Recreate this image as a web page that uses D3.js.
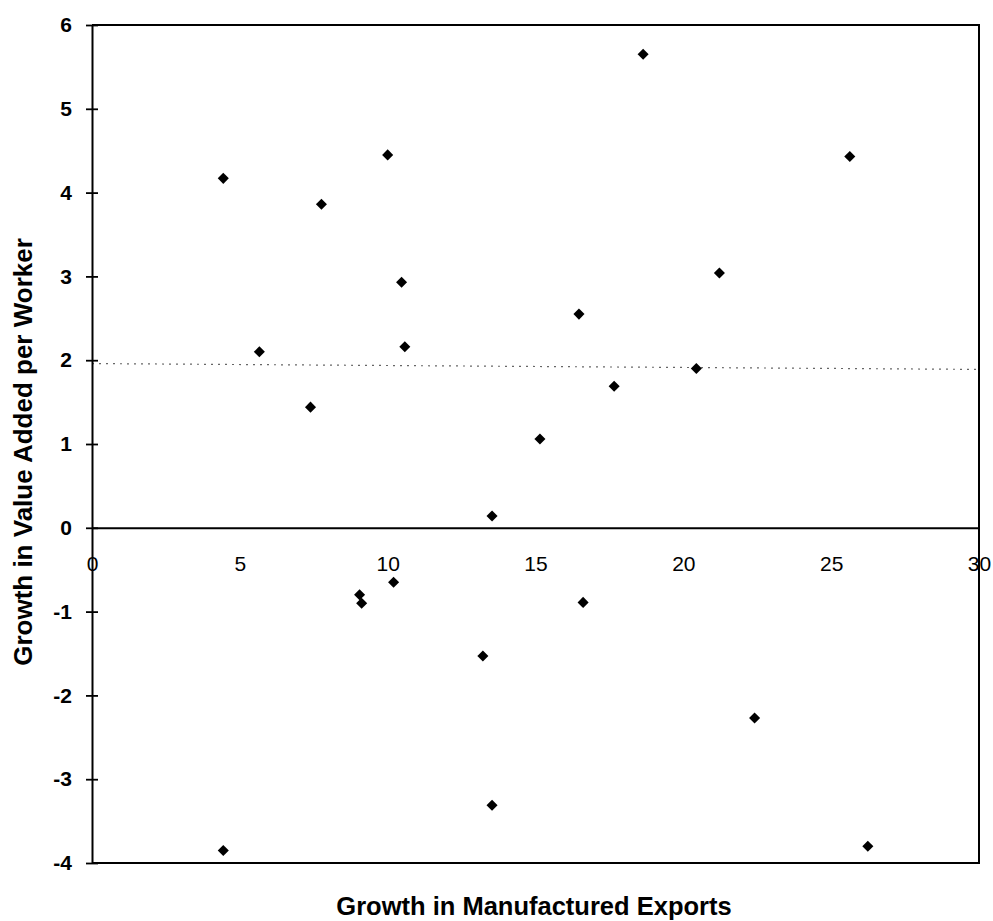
<!DOCTYPE html>
<html>
<head>
<meta charset="utf-8">
<script src="https://cdn.jsdelivr.net/npm/d3@7"></script>
<style>
  html, body { margin: 0; padding: 0; background: #fff; }
  svg { display: block; font-family: "Liberation Sans", Arial, sans-serif; }
</style>
</head>
<body>
<svg id="chart" width="993" height="921"></svg>
<script>
// Data
const exportGrowth = [4.44, 7.76, 10.0, 18.64, 10.47, 16.47, 25.63, 21.22, 5.66, 7.39, 10.58, 17.66,
                      15.15, 13.53, 10.2, 9.05, 9.12, 16.61, 13.22, 20.44, 4.44, 13.53, 22.41, 26.24];
const valueAddedGrowth = [4.17, 3.86, 4.45, 5.65, 2.93, 2.55, 4.43, 3.04, 2.10, 1.44, 2.16, 1.69,
                          1.06, 0.14, -0.65, -0.80, -0.90, -0.89, -1.53, 1.90, -3.85, -3.31, -2.27, -3.80];
const xTicks = [0, 5, 10, 15, 20, 25, 30];
const yTicks = [-4, -3, -2, -1, 0, 1, 2, 3, 4, 5, 6];
const refLineX = [0, 30];
const refLineY = [1.96, 1.89];
const xTitle = "Growth in Manufactured Exports";
const yTitle = "Growth in Value Added per Worker";

const svg = d3.select("#chart");
const pL = 92, pR = 979, pT = 25, pB = 863;
const FONT = "'Liberation Sans', Arial, sans-serif";

const x = d3.scaleLinear().domain([0, 30]).range([pL, pR]);
const y = d3.scaleLinear().domain([-4, 6]).range([pB, pT]);
const fmt = d => String(d); // plain hyphen-minus like the original

// plot border (top, right, bottom)
svg.append("path")
  .attr("d", `M${pL},${pT}H${pR}V${pB}H${pL}`)
  .attr("fill", "none").attr("stroke", "#000").attr("stroke-width", 2);

// dotted reference line
svg.append("line")
  .attr("x1", x(refLineX[0])).attr("y1", y(refLineY[0]))
  .attr("x2", x(refLineX[1])).attr("y2", y(refLineY[1]))
  .attr("stroke", "#666").attr("stroke-width", 1.2)
  .attr("stroke-dasharray", "2,5");

// y axis with cross ticks
const yAxis = svg.append("g")
  .attr("transform", `translate(${pL},0)`)
  .call(d3.axisLeft(y).tickValues(yTicks).tickFormat(fmt).tickSize(6).tickSizeOuter(0).tickPadding(14));
yAxis.select(".domain").attr("stroke-width", 2);
yAxis.selectAll(".tick line").attr("x1", 6).attr("x2", -6).attr("stroke-width", 1.8);
yAxis.selectAll(".tick text")
  .attr("font-size", 21).attr("font-weight", "bold").attr("fill", "#000")
  .attr("font-family", FONT);

// x axis along zero line, labels below
const xAxis = svg.append("g")
  .attr("transform", `translate(0,${y(0)})`)
  .call(d3.axisBottom(x).tickValues(xTicks).tickFormat(fmt).tickSize(0).tickSizeOuter(0).tickPadding(28));
xAxis.select(".domain").attr("stroke-width", 2);
xAxis.selectAll(".tick text")
  .attr("font-size", 21).attr("fill", "#000")
  .attr("font-family", FONT);

// points (diamonds)
const diamond = d3.symbol().type(d3.symbolDiamond2).size(78);
svg.append("g").selectAll("path")
  .data(exportGrowth.map((v, i) => [v, valueAddedGrowth[i]]))
  .join("path")
  .attr("d", diamond)
  .attr("transform", d => `translate(${x(d[0])},${y(d[1])})`)
  .attr("fill", "#000");

// titles
svg.append("text")
  .attr("x", 534).attr("y", 915)
  .attr("text-anchor", "middle")
  .attr("font-size", 25.5).attr("font-weight", "bold")
  .attr("font-family", FONT)
  .text(xTitle);

svg.append("text")
  .attr("transform", `translate(32,452) rotate(-90)`)
  .attr("text-anchor", "middle")
  .attr("font-size", 26).attr("font-weight", "bold")
  .attr("font-family", FONT)
  .text(yTitle);
</script>
</body>
</html>
